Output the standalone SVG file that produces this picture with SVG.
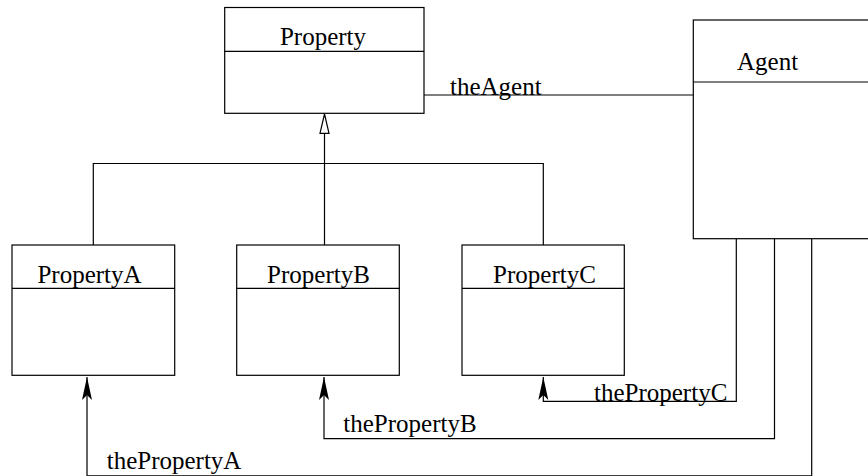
<svg xmlns="http://www.w3.org/2000/svg" width="868" height="476" viewBox="0 0 868 476">
  <style>
    .box { fill: #fff; stroke: #000; stroke-width: 1.2; }
    .sep { stroke: #000; stroke-width: 1.2; }
    .wire { fill: none; stroke: #000; stroke-width: 1.2; }
    .nav { marker-end: url(#navArrow); }
    .lbl { font-family: "Liberation Serif", "Times New Roman", serif; font-size: 25px; fill: #000; }
    .mid { text-anchor: middle; }
  </style>
  <defs>
    <!-- filled, notched arrowhead for navigable associations -->
    <marker id="navArrow" viewBox="-24 -6 25 12" refX="0" refY="0" markerWidth="25" markerHeight="12" markerUnits="userSpaceOnUse" orient="auto">
      <path d="M0,0 L-23,-5 L-18,0 L-23,5 Z" fill="#000"/>
    </marker>
  </defs>
  <rect width="868" height="476" fill="#fff"/>

  <!-- connectors -->
  <g id="connectors">
    <!-- generalization tree -->
    <path class="wire" d="M93.3,245 V163.5 H543.3 V245"/>
    <path class="wire" d="M324.5,245 V133"/>
    <polygon points="324.5,114 320,133.3 329,133.3" fill="#fff" stroke="#000" stroke-width="1.2"/>
    <!-- association Property - Agent -->
    <path class="wire" d="M424,95 H693.3"/>
    <text class="lbl" x="450" y="95">theAgent</text>
    <!-- navigable associations from Agent -->
    <path class="wire nav" d="M736.3,238.7 V401.3 H543.3 V377"/>
    <text class="lbl" x="594" y="400.7">thePropertyC</text>
    <path class="wire nav" d="M774.5,238.7 V438.7 H324 V377"/>
    <text class="lbl" x="343.3" y="432.3">thePropertyB</text>
    <path class="wire nav" d="M811.7,238.7 V475.8 H87 V377"/>
    <text class="lbl" x="106.7" y="469.3">thePropertyA</text>
  </g>

  <!-- classes -->
  <g id="Property">
    <rect class="box" x="224.7" y="7.5" width="199.3" height="105.8"/>
    <line class="sep" x1="224.7" y1="51.3" x2="424" y2="51.3"/>
    <text class="lbl mid" x="323" y="45">Property</text>
  </g>
  <g id="Agent">
    <rect class="box" x="693.3" y="20" width="200" height="218.7"/>
    <line class="sep" x1="693.3" y1="82" x2="868" y2="82"/>
    <text class="lbl" x="737" y="70">Agent</text>
  </g>
  <g id="PropertyA">
    <rect class="box" x="12" y="245" width="162.7" height="130.3"/>
    <line class="sep" x1="12" y1="288.3" x2="174.7" y2="288.3"/>
    <text class="lbl mid" x="89.5" y="283">PropertyA</text>
  </g>
  <g id="PropertyB">
    <rect class="box" x="236.7" y="245" width="162.6" height="130.3"/>
    <line class="sep" x1="236.7" y1="288.3" x2="399.3" y2="288.3"/>
    <text class="lbl mid" x="318.5" y="283">PropertyB</text>
  </g>
  <g id="PropertyC">
    <rect class="box" x="462" y="245" width="162.3" height="130.3"/>
    <line class="sep" x1="462" y1="288.3" x2="624.3" y2="288.3"/>
    <text class="lbl mid" x="544.5" y="283">PropertyC</text>
  </g>
</svg>
